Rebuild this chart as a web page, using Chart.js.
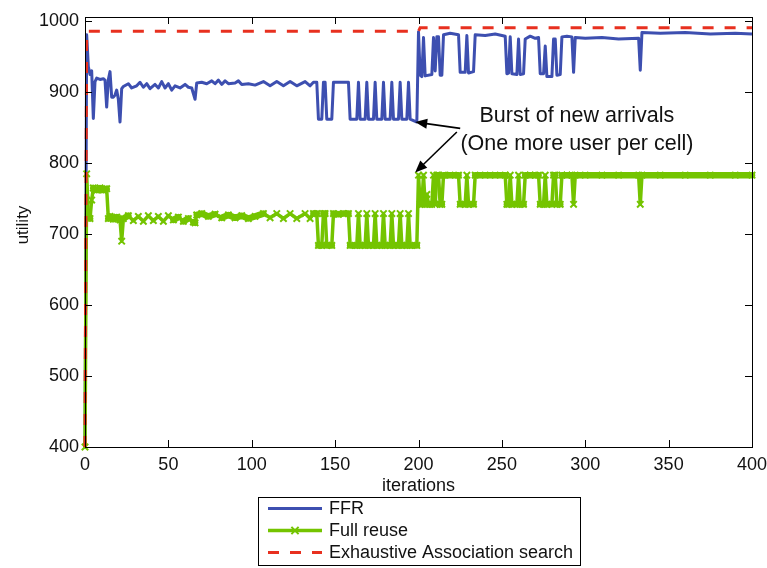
<!DOCTYPE html>
<html>
<head>
<meta charset="utf-8">
<script src="https://cdn.jsdelivr.net/npm/chart.js@4.4.1/dist/chart.umd.min.js"></script>
<style>
  html, body { margin: 0; padding: 0; background: #fff; }
  canvas { display: block; }
</style>
</head>
<body>
<canvas id="c" width="767" height="568"></canvas>
<script>
// ---- data: utility per iteration (breakpoints of each trace) ----
const ffrIter = [
  0, 1, 2, 3, 4, 5, 6, 7, 9, 11, 12, 13, 14, 15, 16, 17, 18, 19, 20, 21, 22, 23,
  26, 28, 31, 33, 35, 37, 39, 42, 44, 46, 48, 50, 52, 54, 57, 60, 62, 64, 66, 67,
  70, 73, 76, 78, 80, 82, 84, 86, 90, 92, 94, 98, 102, 107, 111, 115, 119, 123, 127, 132, 135, 137,
  139, 140, 142, 143, 144, 145, 148, 149, 158, 159, 163, 164, 165, 168, 169, 170, 173, 174,
  175, 178, 179, 180, 183, 184, 185, 188, 189, 190, 193, 194, 195, 199,
  200, 201, 202, 203, 204, 208, 209, 210, 211, 212, 213, 214, 215, 219, 224, 225, 228, 229,
  230, 233, 234, 240, 246, 252, 253, 254, 255, 256, 259, 260, 261, 263, 264, 267, 270, 272,
  273, 275, 276, 277, 280, 281, 282, 283, 285, 286, 289, 292, 293, 294, 300, 310, 320, 332,
  333, 334, 345, 360, 375, 390, 400
];
const ffrUtil = [
  400, 981, 936, 925, 930, 863, 915, 920, 918, 919, 917, 879, 918, 929, 893, 893, 896, 903, 890, 858, 905, 908,
  912, 906, 909, 914, 907, 912, 905, 911, 906, 915, 906, 912, 903, 909, 906, 911, 907, 906, 890, 913,
  914, 912, 916, 912, 917, 911, 916, 912, 913, 916, 911, 912, 910, 915, 909, 915, 909, 915, 909, 915, 909, 914,
  914, 862, 862, 914, 914, 862, 862, 914, 914, 862, 862, 914, 862, 862, 914, 862, 862, 914,
  862, 862, 914, 862, 862, 914, 862, 862, 914, 862, 862, 914, 862, 858,
  985, 924, 922, 977, 923, 925, 977, 930, 978, 978, 924, 924, 981, 983, 981, 928, 928, 980,
  927, 929, 981, 980, 982, 979, 926, 927, 978, 926, 925, 975, 925, 926, 975, 979, 976, 977,
  926, 926, 965, 922, 922, 975, 975, 924, 925, 978, 979, 978, 928, 977, 976, 977, 975, 976,
  931, 984, 983, 984, 982, 983, 982
];

const reuseIter = [
  0, 1, 2, 3, 4, 5, 7, 9, 11, 13, 14, 15, 17, 19, 21, 22, 23,
  26, 29, 32, 35, 38, 41, 44, 47, 50, 53, 56, 59, 62, 65, 66, 67,
  70, 74, 78, 82, 86, 90, 94, 98, 102, 107, 111, 115, 119, 123, 127, 132, 135, 137,
  139, 140, 142, 143, 144, 145, 148, 149, 152, 155, 158, 159, 163, 164, 165, 168, 169, 170, 173, 174,
  175, 178, 179, 180, 183, 184, 185, 188, 189, 190, 193, 194, 195, 199,
  200, 201, 202, 203, 204, 205, 206, 208, 209, 210, 211, 212, 213, 214, 215, 219, 224, 225, 228, 229,
  230, 233, 234, 240, 246, 252, 253, 254, 255, 256, 259, 260, 261, 263, 264, 267, 270, 272,
  273, 275, 276, 277, 280, 281, 282, 283, 285, 286, 289, 292, 293, 294, 300, 310, 320, 332,
  333, 334, 345, 360, 375, 390, 400
];
const reuseUtil = [
  400, 785, 725, 722, 748, 765, 762, 765, 762, 764, 722, 725, 721, 724, 720, 690, 722,
  726, 719, 725, 718, 726, 719, 725, 718, 726, 720, 724, 718, 722, 717, 716, 727,
  729, 725, 728, 723, 727, 723, 726, 722, 725, 729, 723, 729, 722, 729, 722, 729, 722, 729,
  729, 684, 684, 729, 729, 684, 684, 729, 728, 729, 729, 684, 684, 729, 684, 684, 729, 684, 684, 729,
  684, 684, 729, 684, 684, 729, 684, 684, 729, 684, 684, 729, 684, 684,
  783, 742, 742, 783, 742, 756, 742, 742, 783, 742, 783, 783, 742, 742, 783, 783, 783, 742, 742, 783,
  742, 742, 783, 783, 783, 783, 742, 742, 783, 742, 742, 783, 742, 742, 783, 783, 783, 783,
  742, 742, 783, 742, 742, 783, 783, 742, 742, 783, 783, 783, 742, 783, 783, 783, 783, 783,
  742, 783, 783, 783, 783, 783, 783
];

const exhaustiveIter = [0, 1, 200, 201, 400];
const exhaustiveUtil = [400, 986, 986, 991, 991];

const xTicks = [0, 50, 100, 150, 200, 250, 300, 350, 400];
const yTicks = [400, 500, 600, 700, 800, 900, 1000];

const seriesNames = ['FFR', 'Full reuse', 'Exhaustive Association search'];
const noteLines = ['Burst of new arrivals', '(One more user per cell)'];
const xTitle = 'iterations';
const yTitle = 'utility';

// ---- styling ----
const BLUE = '#3d4fb0';
const GREEN = '#74c400';
const RED = '#e8301f';
const FONT = '"Liberation Sans", Arial, Helvetica, sans-serif';
const INK = '#111';

const toPoints = (xs, ys) => xs.map((x, i) => ({ x, y: ys[i] }));

// MATLAB-like frame: box plus inward ticks on all four sides, and the y title
const framePlugin = {
  id: 'frame',
  afterDatasetsDraw(chart) {
    const { ctx, chartArea: a, scales: { x, y } } = chart;
    const L = 7;
    ctx.save();
    ctx.strokeStyle = '#000';
    ctx.lineWidth = 1;
    ctx.beginPath();
    xTicks.forEach(v => {
      const px = Math.round(x.getPixelForValue(v)) + 0.5;
      ctx.moveTo(px, a.bottom); ctx.lineTo(px, a.bottom - L);
      ctx.moveTo(px, a.top); ctx.lineTo(px, a.top + L);
    });
    yTicks.forEach(v => {
      const py = Math.round(y.getPixelForValue(v)) + 0.5;
      ctx.moveTo(a.left, py); ctx.lineTo(a.left + L, py);
      ctx.moveTo(a.right, py); ctx.lineTo(a.right - L, py);
    });
    ctx.stroke();
    ctx.strokeRect(Math.round(a.left) + 0.5, Math.round(a.top) + 0.5,
      Math.round(a.right - a.left), Math.round(a.bottom - a.top));

    // y axis title, rotated
    ctx.translate(23, 225);
    ctx.rotate(-Math.PI / 2);
    ctx.fillStyle = INK;
    ctx.font = '17px ' + FONT;
    ctx.textAlign = 'center';
    ctx.textBaseline = 'middle';
    ctx.fillText(yTitle, 0, 0);
    ctx.restore();
  }
};

// text note with two arrows, placed in data coordinates
const notePlugin = {
  id: 'note',
  afterDraw(chart) {
    const { ctx, scales: { x, y } } = chart;
    const arrow = (x0, y0, x1, y1) => {
      const ax = x.getPixelForValue(x0), ay = y.getPixelForValue(y0);
      const bx = x.getPixelForValue(x1), by = y.getPixelForValue(y1);
      const ang = Math.atan2(by - ay, bx - ax);
      const hl = 12, hw = 5;
      ctx.beginPath();
      ctx.moveTo(ax, ay);
      ctx.lineTo(bx - Math.cos(ang) * hl * 0.8, by - Math.sin(ang) * hl * 0.8);
      ctx.stroke();
      ctx.beginPath();
      ctx.moveTo(bx, by);
      ctx.lineTo(bx - Math.cos(ang) * hl - Math.sin(ang) * hw, by - Math.sin(ang) * hl + Math.cos(ang) * hw);
      ctx.lineTo(bx - Math.cos(ang) * hl + Math.sin(ang) * hw, by - Math.sin(ang) * hl - Math.cos(ang) * hw);
      ctx.closePath();
      ctx.fill();
    };
    ctx.save();
    ctx.strokeStyle = '#000';
    ctx.fillStyle = '#000';
    ctx.lineWidth = 1.6;
    arrow(225, 849, 198, 858);
    arrow(223, 844, 198, 787);
    ctx.fillStyle = INK;
    ctx.font = '21.5px ' + FONT;
    ctx.textAlign = 'center';
    ctx.textBaseline = 'middle';
    ctx.fillText(noteLines[0], x.getPixelForValue(295), y.getPixelForValue(866));
    ctx.fillText(noteLines[1], x.getPixelForValue(295), y.getPixelForValue(827));
    ctx.restore();
  }
};

// boxed legend under the axis title
const legendPlugin = {
  id: 'boxLegend',
  afterDraw(chart) {
    const { ctx } = chart;
    const bx = 258, by = 497, bw = 322, bh = 68;
    ctx.save();
    ctx.fillStyle = '#fff';
    ctx.fillRect(bx, by, bw, bh);
    ctx.strokeStyle = '#000';
    ctx.lineWidth = 1;
    ctx.strokeRect(bx + 0.5, by + 0.5, bw, bh);
    ctx.font = '18px ' + FONT;
    ctx.textBaseline = 'middle';
    chart.data.datasets.forEach((ds, i) => {
      const ry = by + 11.5 + i * 22;
      ctx.strokeStyle = ds.borderColor;
      ctx.lineWidth = ds.legendWidth;
      ctx.setLineDash(ds.borderDash || []);
      ctx.beginPath();
      ctx.moveTo(268, ry);
      ctx.lineTo(322, ry);
      ctx.stroke();
      ctx.setLineDash([]);
      if (ds.pointRadius > 0) {
        const r = ds.pointRadius * 0.8;
        ctx.lineWidth = 2;
        ctx.beginPath();
        ctx.moveTo(295 - r, ry - r); ctx.lineTo(295 + r, ry + r);
        ctx.moveTo(295 - r, ry + r); ctx.lineTo(295 + r, ry - r);
        ctx.stroke();
      }
      ctx.fillStyle = INK;
      ctx.fillText(ds.label, 329, ry + 0.5);
    });
    ctx.restore();
  }
};

new Chart(document.getElementById('c'), {
  type: 'line',
  data: {
    datasets: [
      {
        label: seriesNames[0],
        data: toPoints(ffrIter, ffrUtil),
        borderColor: BLUE,
        borderWidth: 3,
        legendWidth: 3,
        borderJoinStyle: 'round',
        pointRadius: 0,
        order: 3,
        clip: false
      },
      {
        label: seriesNames[1],
        data: toPoints(reuseIter, reuseUtil),
        borderColor: GREEN,
        borderWidth: 3.5,
        legendWidth: 3.5,
        borderJoinStyle: 'round',
        borderCapStyle: 'round',
        segment: {
          borderWidth: c => Math.abs(c.p0.parsed.y - c.p1.parsed.y) < 5 ? 6.5 : 3.5
        },
        pointStyle: 'crossRot',
        pointRadius: 4.5,
        pointBorderWidth: 2,
        pointBorderColor: GREEN,
        pointBackgroundColor: GREEN,
        order: 2,
        clip: false
      },
      {
        label: seriesNames[2],
        data: toPoints(exhaustiveIter, exhaustiveUtil),
        borderColor: RED,
        borderWidth: 3,
        legendWidth: 3,
        borderDash: [11, 11],
        pointRadius: 0,
        order: 1,
        clip: false
      }
    ]
  },
  options: {
    responsive: false,
    animation: false,
    devicePixelRatio: 1,
    events: [],
    layout: { padding: { left: 0, right: 15, top: 17, bottom: 59 } },
    plugins: { legend: { display: false }, tooltip: { enabled: false } },
    scales: {
      x: {
        type: 'linear',
        min: 0, max: 400,
        afterBuildTicks: s => { s.ticks = xTicks.map(v => ({ value: v })); },
        afterFit: s => { s.height = 62; s.paddingLeft = 0; s.paddingRight = 0; },
        grid: { display: false, drawTicks: false },
        border: { display: false },
        ticks: { padding: 7, color: INK, font: { family: FONT, size: 18 }, maxRotation: 0, callback: v => String(v) },
        title: { display: true, text: xTitle, color: INK, font: { family: FONT, size: 18 }, padding: { top: 0, bottom: 12.5 } }
      },
      y: {
        type: 'linear',
        min: 400, max: 1006,
        afterBuildTicks: s => { s.ticks = yTicks.map(v => ({ value: v })); },
        afterFit: s => { s.width = 85; s.paddingTop = 0; s.paddingBottom = 0; },
        grid: { display: false, drawTicks: false },
        border: { display: false },
        ticks: { padding: 6, color: INK, font: { family: FONT, size: 18 }, callback: v => String(v) },
        title: { display: false }
      }
    }
  },
  plugins: [framePlugin, notePlugin, legendPlugin]
});
</script>
</body>
</html>
